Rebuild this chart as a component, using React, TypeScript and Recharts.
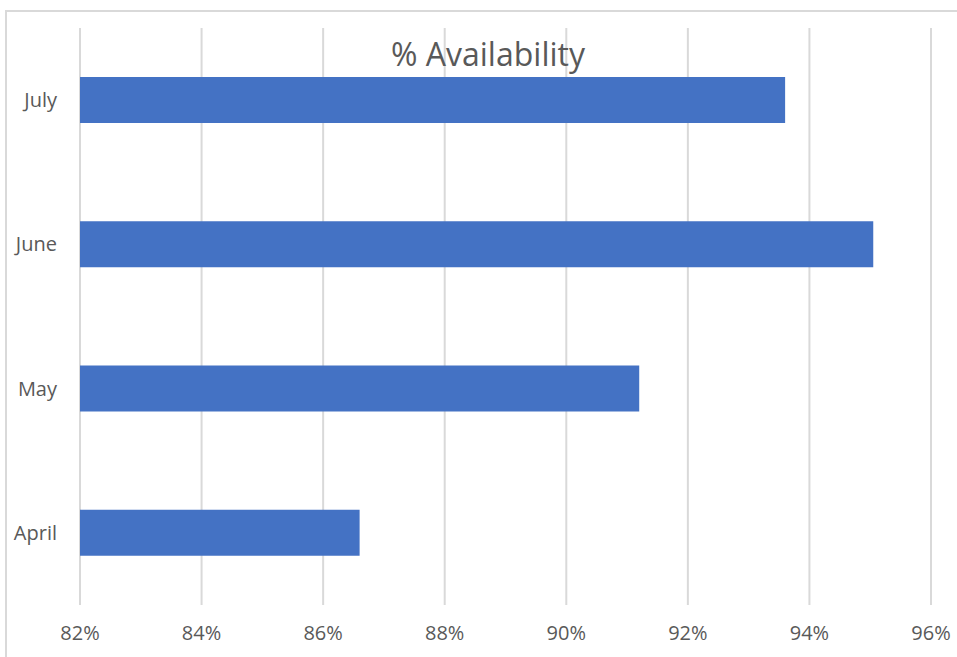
import React from 'react';
import { BarChart, Bar, XAxis, YAxis, CartesianGrid } from 'recharts';

const months = ['April', 'May', 'June', 'July'];
const availability = [86.6, 91.2, 95.05, 93.6];
const xTicks = [82, 84, 86, 88, 90, 92, 94, 96];

const data = months.map((name, i) => ({ name, value: availability[i] }));

const FONT = '"Open Sans", "Liberation Sans", sans-serif';
const TEXT = '#595959';

export default function App() {
  return (
    <div style={{ position: 'absolute', left: 0, top: 0, width: 957, height: 657, background: '#fff', overflow: 'hidden', fontFamily: FONT }}>
      <div style={{ position: 'absolute', left: 5, top: 10, width: 980, height: 700, borderLeft: '2px solid #d9d9d9', borderTop: '2px solid #d9d9d9' }} />
      <div style={{ position: 'absolute', left: 0, top: 0 }}>
        <BarChart
          width={957}
          height={657}
          data={data}
          layout="vertical"
          margin={{ top: 28, right: 26, bottom: 12, left: 10 }}
        >
          <CartesianGrid horizontal={false} stroke="#d9d9d9" strokeWidth={2} />
          <XAxis
            type="number"
            domain={[82, 96]}
            ticks={xTicks}
            tickFormatter={(v) => `${v}%`}
            axisLine={false}
            tickLine={false}
            tickMargin={15}
            height={40}
            tick={{ fill: TEXT, fontSize: 20, fontFamily: FONT }}
          />
          <YAxis
            type="category"
            dataKey="name"
            reversed
            width={70}
            axisLine={false}
            tickLine={false}
            tickMargin={17}
            tick={{ fill: TEXT, fontSize: 20, fontFamily: FONT }}
          />
          <Bar dataKey="value" fill="#4472C4" barSize={46} isAnimationActive={false} />
        </BarChart>
      </div>
      <div style={{ position: 'absolute', left: 338, width: 300, top: 32, textAlign: 'center', fontSize: 32, lineHeight: '44px', color: TEXT, whiteSpace: 'nowrap' }}>
        % Availability
      </div>
    </div>
  );
}
